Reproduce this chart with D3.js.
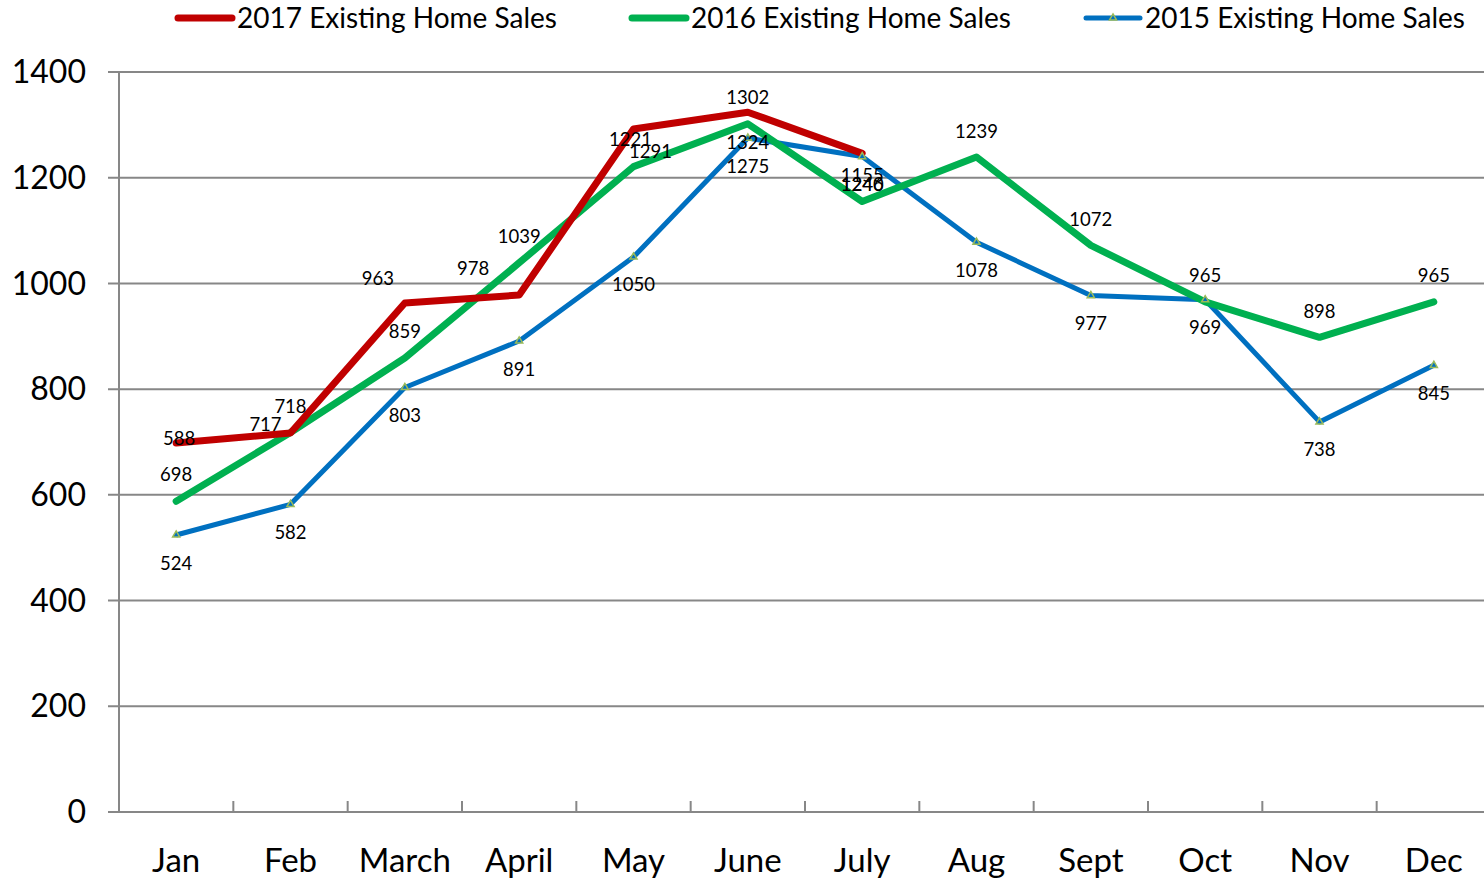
<!DOCTYPE html>
<html>
<head>
<meta charset="utf-8">
<script src="https://cdn.jsdelivr.net/npm/d3@7"></script>
<style>
  body { margin: 0; background: #fff; }
  svg { font-family: Lato, "Noto Sans", sans-serif; }
</style>
</head>
<body>
<svg id="canvas" width="1484" height="880"></svg>
<script>
// Data
var months = ["Jan", "Feb", "March", "April", "May", "June", "July", "Aug", "Sept", "Oct", "Nov", "Dec"];
var sales2017 = [698, 717, 963, 978, 1292, 1324, 1246];
var sales2016 = [588, 718, 859, 1039, 1221, 1302, 1155, 1239, 1072, 965, 898, 965];
var sales2015 = [524, 582, 803, 891, 1050, 1275, 1240, 1078, 977, 969, 738, 845];
// label texts as printed on the chart (some are swapped in the original)
var labels2017 = ["588", "717", "963", "978", "1221", "1324", "1246"];
var labels2016 = ["698", "718", "859", "1039", "1291", "1302", "1155", "1239", "1072", "965", "898", "965"];
var labels2015 = ["524", "582", "803", "891", "1050", "1275", "1240", "1078", "977", "969", "738", "845"];
var yTicks = [0, 200, 400, 600, 800, 1000, 1200, 1400];

var svg = d3.select("#canvas");

// Scales
var x = d3.scaleBand()
    .domain(months)
    .range([119, 1491]);
var y = d3.scaleLinear()
    .domain([0, 1400])
    .range([812, 72]);

function cx(i) { return x(months[i]) + x.bandwidth() / 2; }

// Gridlines
svg.append("g")
    .selectAll("line")
    .data(yTicks)
    .enter().append("line")
    .attr("x1", 108)
    .attr("x2", 1491)
    .attr("y1", function(d){ return y(d); })
    .attr("y2", function(d){ return y(d); })
    .attr("stroke", "#878787")
    .attr("stroke-width", 2);

// Y axis line
svg.append("line")
    .attr("x1", 119).attr("x2", 119)
    .attr("y1", y(1400)).attr("y2", y(0))
    .attr("stroke", "#878787")
    .attr("stroke-width", 2);

// Y tick labels
svg.append("g")
    .selectAll("text")
    .data(yTicks)
    .enter().append("text")
    .attr("x", 86)
    .attr("y", function(d){ return y(d); })
    .attr("dy", "0.35em")
    .attr("text-anchor", "end")
    .attr("font-size", 32)
    .attr("fill", "#000")
    .text(function(d){ return d; });

// X ticks (category boundaries)
svg.append("g")
    .selectAll("line")
    .data(months.slice(1))
    .enter().append("line")
    .attr("x1", function(d){ return x(d); })
    .attr("x2", function(d){ return x(d); })
    .attr("y1", y(0) - 11)
    .attr("y2", y(0))
    .attr("stroke", "#878787")
    .attr("stroke-width", 2);

// X labels
svg.append("g")
    .selectAll("text")
    .data(months)
    .enter().append("text")
    .attr("x", function(d){ return x(d) + x.bandwidth() / 2; })
    .attr("y", 860)
    .attr("dy", "0.35em")
    .attr("text-anchor", "middle")
    .attr("font-size", 33)
    .text(function(d){ return d; });

var line = d3.line()
    .x(function(d, i){ return cx(i); })
    .y(function(d){ return y(d); });

// Lines
svg.append("path").datum(sales2015)
    .attr("d", line)
    .attr("fill", "none")
    .attr("stroke", "#0070C0")
    .attr("stroke-width", 5)
    .attr("stroke-linejoin", "round");
svg.append("path").datum(sales2016)
    .attr("d", line)
    .attr("fill", "none")
    .attr("stroke", "#00B050")
    .attr("stroke-width", 7)
    .attr("stroke-linejoin", "round")
    .attr("stroke-linecap", "round");
svg.append("path").datum(sales2017)
    .attr("d", line)
    .attr("fill", "none")
    .attr("stroke", "#C00000")
    .attr("stroke-width", 7)
    .attr("stroke-linejoin", "round")
    .attr("stroke-linecap", "round");

// 2015 triangle markers
var tri = d3.symbol().type(d3.symbolTriangle).size(22);
svg.append("g")
    .selectAll("path")
    .data(sales2015)
    .enter().append("path")
    .attr("d", tri)
    .attr("transform", function(d, i){ return "translate(" + cx(i) + "," + y(d) + ")"; })
    .attr("fill", "#0070C0")
    .attr("stroke", "#9BBB59")
    .attr("stroke-width", 1.5);

// Data labels
function addLabels(values, texts, offset) {
    svg.append("g")
        .selectAll("text")
        .data(values)
        .enter().append("text")
        .attr("x", function(d, i){ return cx(i) + offset(i)[0]; })
        .attr("y", function(d, i){ return y(d) + offset(i)[1]; })
        .attr("dy", "0.35em")
        .attr("text-anchor", "middle")
        .attr("font-size", 18.5)
        .attr("fill", "#000")
        .text(function(d, i){ return texts[i]; });
}
var redOffsets = [[3, -5], [-25, -8], [-27, -24], [-46, -27], [-3, 10], [0, 30], [0, 31]];
addLabels(sales2017, labels2017, function(i){ return redOffsets[i]; });
addLabels(sales2016, labels2016, function(i){
    if (i === 0) return [0, -27];
    if (i === 4) return [17, -15];
    return [0, -26];
});
addLabels(sales2015, labels2015, function(){ return [0, 28]; });

// Legend
var legend = [
    { name: "2017 Existing Home Sales", color: "#C00000", w: 7, x: 178, marker: false },
    { name: "2016 Existing Home Sales", color: "#00B050", w: 7, x: 632, marker: false },
    { name: "2015 Existing Home Sales", color: "#0070C0", w: 5, x: 1086, marker: true }
];
var lg = svg.append("g").selectAll("g").data(legend).enter().append("g");
lg.append("line")
    .attr("x1", function(d){ return d.x; })
    .attr("x2", function(d){ return d.x + 54; })
    .attr("y1", 18).attr("y2", 18)
    .attr("stroke", function(d){ return d.color; })
    .attr("stroke-width", function(d){ return d.w; })
    .attr("stroke-linecap", "round");
lg.filter(function(d){ return d.marker; }).append("path")
    .attr("d", tri)
    .attr("transform", function(d){ return "translate(" + (d.x + 27) + ",18)"; })
    .attr("fill", "#0070C0")
    .attr("stroke", "#9BBB59")
    .attr("stroke-width", 1.5);
lg.append("text")
    .attr("x", function(d){ return d.x + 59; })
    .attr("y", 18)
    .attr("dy", "0.35em")
    .attr("font-size", 28)
    .text(function(d){ return d.name; });
</script>
</body>
</html>
